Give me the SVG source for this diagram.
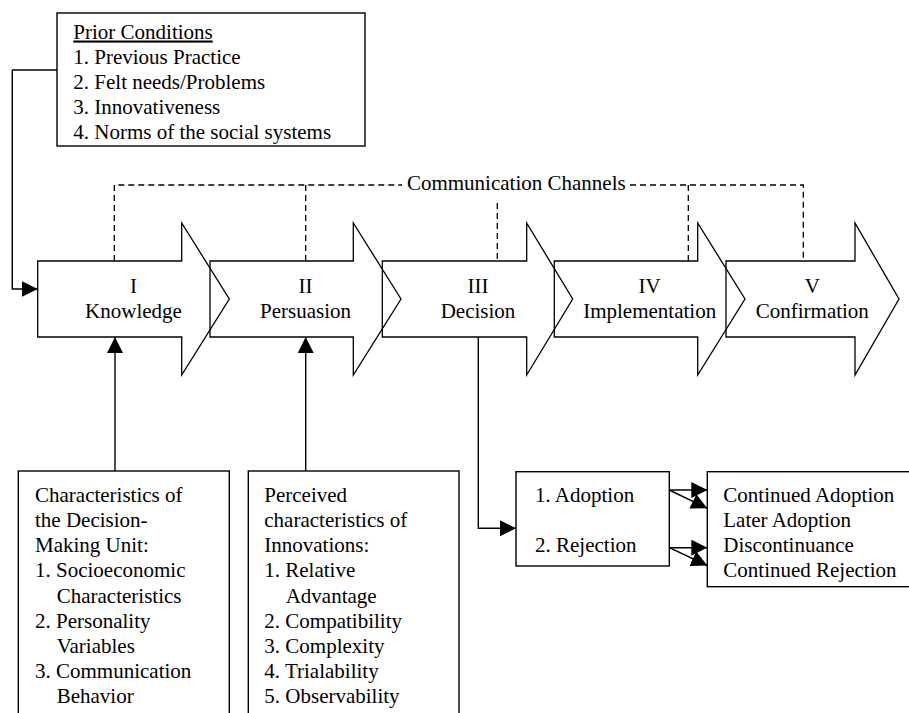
<svg xmlns="http://www.w3.org/2000/svg" width="909" height="713" viewBox="0 0 909 713">
<defs>
<style>
text{font-family:"Liberation Serif","Times New Roman",serif;font-size:21px;fill:#000}
.c{text-anchor:middle}
.box{fill:none;stroke:#000;stroke-width:1.4}
.arr{fill:none;stroke:#000;stroke-width:1.3;stroke-linejoin:miter}
.ln{fill:none;stroke:#000;stroke-width:1.4}
.dash{fill:none;stroke:#000;stroke-width:1.3;stroke-dasharray:6,4}
.head{marker-end:url(#ah)}
</style>
<marker id="ah" markerUnits="userSpaceOnUse" markerWidth="16" markerHeight="16" refX="16" refY="8" orient="auto">
<path d="M0,0 L16,8 L0,16 z" fill="#000"/>
</marker>
</defs>
<rect width="909" height="713" fill="#fff"/>

<g id="prior">
<rect class="box" x="57" y="13" width="308" height="133"/>
<text x="73.3" y="38.5" text-decoration="underline">Prior Conditions</text>
<text x="73.3" y="63.5">1. Previous Practice</text>
<text x="73.3" y="88.5">2. Felt needs/Problems</text>
<text x="73.3" y="113.5">3. Innovativeness</text>
<text x="73.3" y="138.5">4. Norms of the social systems</text>
</g>

<g id="stage1">
<polygon class="arr" points="37.7,261 181.7,261 181.7,223 229.3,299 181.7,375 181.7,337 37.7,337"/>
<text class="c" x="133.5" y="293">I</text>
<text class="c" x="133.5" y="318">Knowledge</text>
</g>
<g id="stage2">
<polygon class="arr" points="210,261 353.3,261 353.3,223 401,299 353.3,375 353.3,337 210,337"/>
<text class="c" x="305.5" y="293">II</text>
<text class="c" x="305.5" y="318">Persuasion</text>
</g>
<g id="stage3">
<polygon class="arr" points="382.3,261 526.7,261 526.7,223 572.7,299 526.7,375 526.7,337 382.3,337"/>
<text class="c" x="478" y="293">III</text>
<text class="c" x="478" y="318">Decision</text>
</g>
<g id="stage4">
<polygon class="arr" points="554.3,261 697.7,261 697.7,223 745,299 697.7,375 697.7,337 554.3,337"/>
<text class="c" x="649.7" y="293">IV</text>
<text class="c" x="649.7" y="318">Implementation</text>
</g>
<g id="stage5">
<polygon class="arr" points="726,261 855,261 855,223 899,299 855,375 855,337 726,337"/>
<text class="c" x="812.3" y="293">V</text>
<text class="c" x="812.3" y="318">Confirmation</text>
</g>

<g id="channels">
<text class="c" x="516.3" y="190">Communication Channels</text>
</g>

<g id="dmu">
<rect class="box" x="18.3" y="471" width="211" height="260"/>
<text x="35" y="501.7">Characteristics of</text>
<text x="35" y="526.9">the Decision-</text>
<text x="35" y="552.1">Making Unit:</text>
<text x="35" y="577.3">1. Socioeconomic</text>
<text x="56.7" y="602.5">Characteristics</text>
<text x="35" y="627.7">2. Personality</text>
<text x="56.7" y="652.9">Variables</text>
<text x="35" y="678.1">3. Communication</text>
<text x="56.7" y="703.3">Behavior</text>
</g>

<g id="innov">
<rect class="box" x="248.3" y="471" width="210.7" height="260"/>
<text x="264.3" y="501.7">Perceived</text>
<text x="264.3" y="526.9">characteristics of</text>
<text x="264.3" y="552.1">Innovations:</text>
<text x="264.3" y="577.3">1. Relative</text>
<text x="285.7" y="602.5">Advantage</text>
<text x="264.3" y="627.7">2. Compatibility</text>
<text x="264.3" y="652.9">3. Complexity</text>
<text x="264.3" y="678.1">4. Trialability</text>
<text x="264.3" y="703.3">5. Observability</text>
</g>

<g id="choice">
<rect class="box" x="516" y="471.7" width="153.3" height="94.3"/>
<text x="535" y="501.7">1. Adoption</text>
<text x="535" y="551.7">2. Rejection</text>
</g>

<g id="outcome">
<rect class="box" x="707.3" y="471.7" width="215" height="115"/>
<text x="723.3" y="501.7">Continued Adoption</text>
<text x="723.3" y="526.9">Later Adoption</text>
<text x="723.3" y="552.1">Discontinuance</text>
<text x="723.3" y="577.3">Continued Rejection</text>
</g>

<g id="connectors">
<polyline class="ln head" points="57,70 12.3,70 12.3,289 37.7,289"/>
<line class="ln head" x1="115" y1="471" x2="115" y2="337"/>
<line class="ln head" x1="305.7" y1="471" x2="305.7" y2="337"/>
<polyline class="ln head" points="478.3,337 478.3,528.3 516,528.3"/>
<line class="ln head" x1="669.3" y1="490" x2="707.3" y2="490"/>
<line class="ln head" x1="669.3" y1="490" x2="707.3" y2="508.3"/>
<line class="ln head" x1="669.3" y1="547.7" x2="707.3" y2="547.7"/>
<line class="ln head" x1="669.3" y1="547.7" x2="707.3" y2="565.5"/>
<polyline class="dash" points="114.3,261 114.3,185 402,185"/>
<polyline class="dash" points="630,185 803.3,185 803.3,261"/>
<line class="dash" x1="305.7" y1="185" x2="305.7" y2="261"/>
<line class="dash" x1="497.3" y1="203" x2="497.3" y2="261"/>
<line class="dash" x1="688.3" y1="185" x2="688.3" y2="261"/>
</g>
</svg>
